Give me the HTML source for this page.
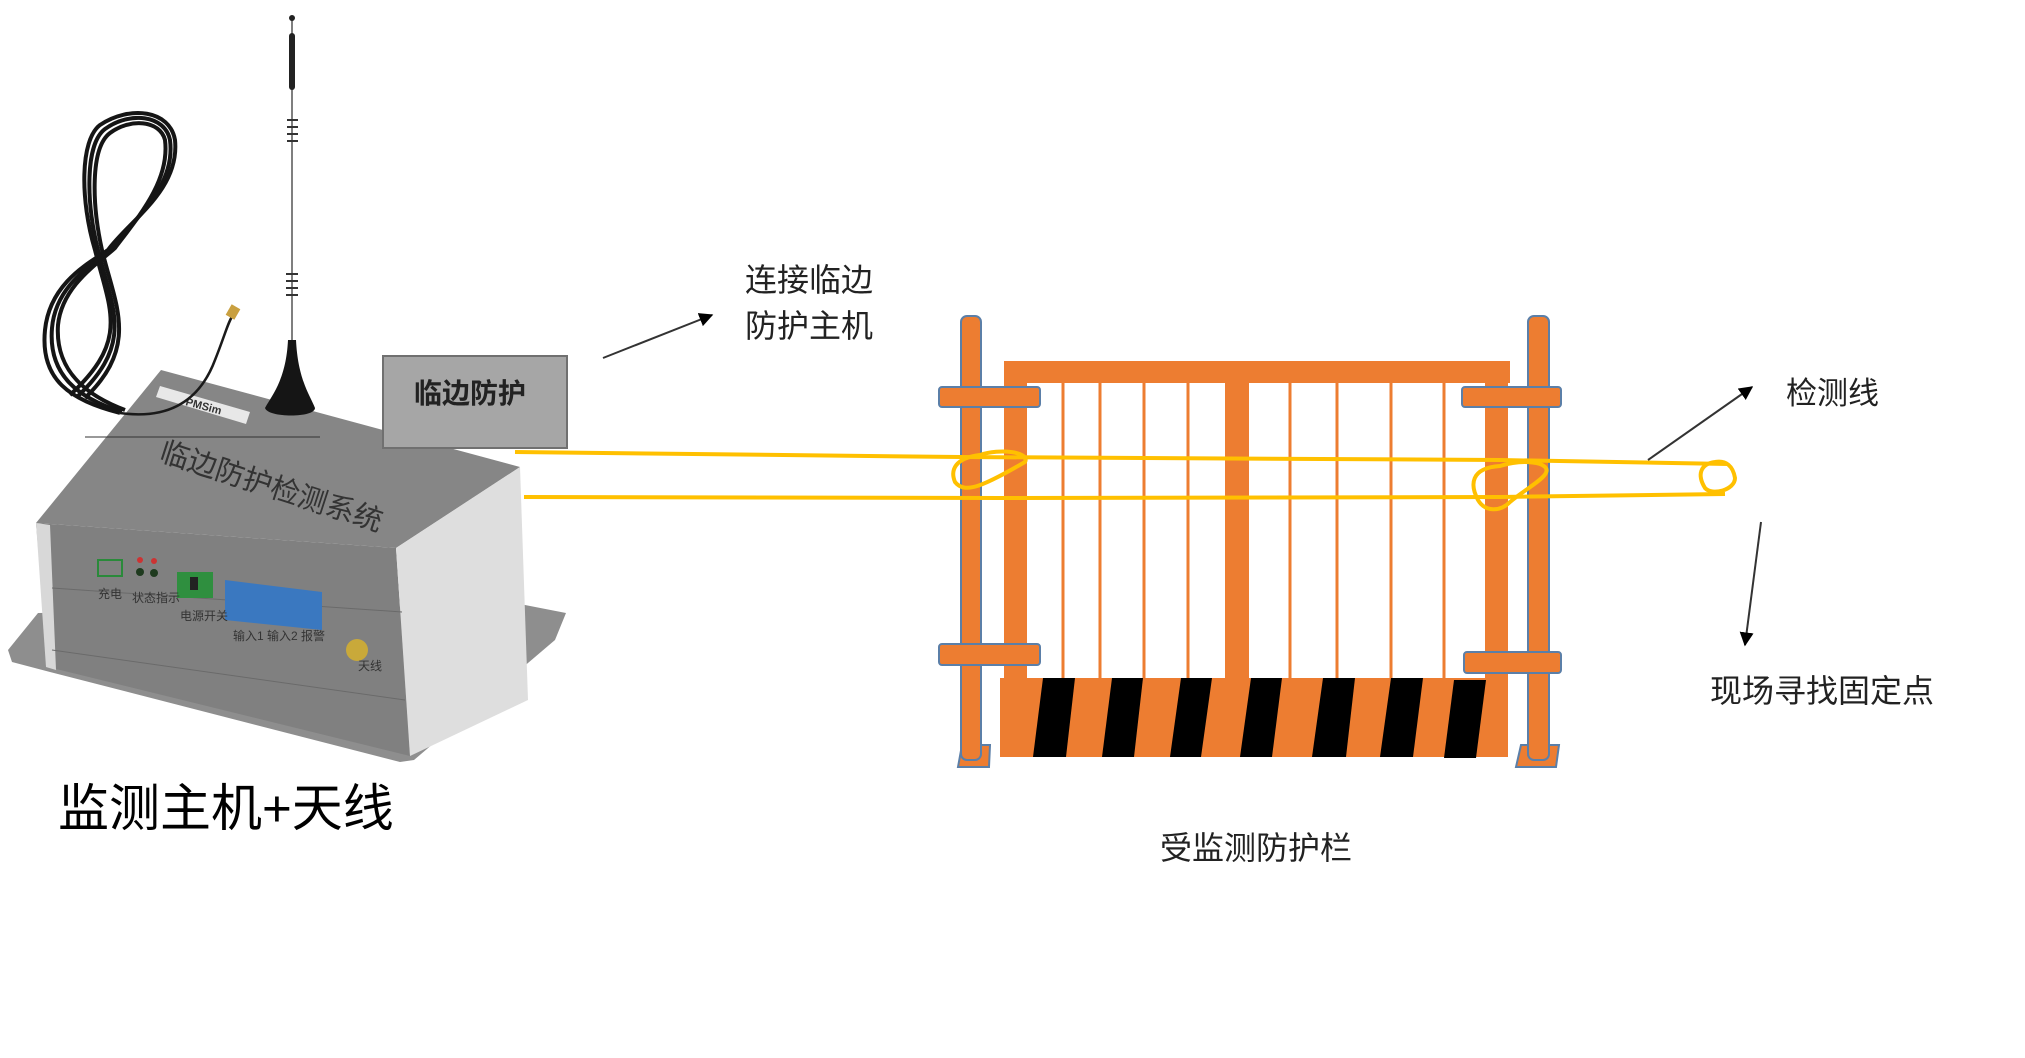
<!DOCTYPE html>
<html><head><meta charset="utf-8"><style>
html,body{margin:0;padding:0;background:#fff;}
svg{display:block;}
text{font-family:"Liberation Sans","Noto Sans CJK SC",sans-serif;}
</style></head><body>
<svg width="2025" height="1058" viewBox="0 0 2025 1058" xmlns="http://www.w3.org/2000/svg">
<defs>
<marker id="ah" viewBox="0 0 10 10" refX="9" refY="5" markerWidth="7" markerHeight="7" orient="auto"><path d="M0,0L10,5L0,10z" fill="#000"/></marker>
</defs>
<!-- flange plate -->
<polygon points="38,613 8,650 12,662 50,672 400,762 414,760 555,640 566,613 525,605" fill="#8e8e8e"/>
<ellipse cx="494" cy="688" rx="7" ry="5" fill="#cfd8e8"/>
<!-- device faces -->
<polygon points="161,370 520,467 396,548 36,523" fill="#868686"/>
<polygon points="36,523 396,548 410,756 48,667" fill="#808080"/>
<polygon points="396,548 520,467 528,700 410,756" fill="#dedede"/>
<polygon points="36,523 50,525 56,670 46,667" fill="#d8d8d8"/>
<line x1="52" y1="588" x2="402" y2="612" stroke="#6a6a6a" stroke-width="1"/>
<line x1="52" y1="650" x2="405" y2="700" stroke="#6a6a6a" stroke-width="1"/>
<text x="158" y="460" font-size="29" fill="#333" transform="rotate(18 158 460)">临边防护检测系统</text>
<!-- panel components -->
<rect x="98" y="560" width="24" height="16" fill="none" stroke="#2a8a3a" stroke-width="2"/>
<circle cx="140" cy="560" r="3" fill="#c33"/><circle cx="154" cy="561" r="3" fill="#c33"/>
<circle cx="140" cy="572" r="4" fill="#1e3a1e"/><circle cx="154" cy="573" r="4" fill="#1e3a1e"/>
<rect x="177" y="572" width="36" height="26" fill="#2f8f3f"/><rect x="190" y="577" width="8" height="13" fill="#222"/>
<polygon points="225,580 322,592 322,630 225,620" fill="#3a78c0"/>
<circle cx="357" cy="650" r="11" fill="#c9a93a"/>
<text x="98" y="598" font-size="12" fill="#333">充电</text>
<text x="132" y="602" font-size="12" fill="#333">状态指示</text>
<text x="180" y="620" font-size="12" fill="#333">电源开关</text>
<text x="233" y="640" font-size="12" fill="#333">输入1 输入2 报警</text>
<text x="358" y="670" font-size="12" fill="#333">天线</text>
<polygon points="160,386 250,412 246,424 156,397" fill="#e8e8e8"/>
<text x="185" y="405" font-size="11" font-weight="bold" fill="#333" transform="rotate(15 185 405)">PMSim</text>
<line x1="85" y1="437" x2="320" y2="437" stroke="#333" stroke-width="1"/>
<!-- cable coil -->
<g fill="none" stroke="#151515" stroke-width="4">
<path d="M120,413 C70,400 40,380 45,330 C50,280 95,260 108,250 C130,220 180,190 175,140 C170,110 130,105 100,125 C80,140 80,200 95,250 C110,310 130,340 70,395"/>
<path d="M125,410 C85,395 55,370 58,325 C62,285 100,262 115,248 C140,215 170,180 165,140 C160,120 130,118 110,133 C90,148 92,205 102,250 C115,305 140,345 85,398"/>
<path d="M122,412 C78,398 48,375 52,328 C56,282 98,262 111,249 C135,218 176,186 170,140 C165,115 130,111 105,129 C85,144 86,202 98,250 C112,308 135,342 78,396"/>
</g>
<path d="M120,413 C170,420 200,400 215,360 C225,335 228,322 233,315" fill="none" stroke="#1a1a1a" stroke-width="2.5"/>
<rect x="228" y="306" width="10" height="12" fill="#c9a040" transform="rotate(30 233 312)"/>
<!-- antenna -->
<line x1="292" y1="17" x2="292" y2="345" stroke="#555" stroke-width="1.5"/>
<circle cx="292" cy="18" r="3" fill="#222"/>
<rect x="289" y="33" width="6" height="57" rx="3" fill="#222"/>
<g stroke="#333" stroke-width="2"><line x1="287" y1="120" x2="298" y2="120"/><line x1="287" y1="127" x2="298" y2="127"/><line x1="287" y1="134" x2="298" y2="134"/><line x1="287" y1="141" x2="298" y2="141"/>
<line x1="286" y1="274" x2="298" y2="274"/><line x1="286" y1="281" x2="298" y2="281"/><line x1="286" y1="288" x2="298" y2="288"/><line x1="286" y1="295" x2="298" y2="295"/></g>
<path d="M288,340 L296,340 C298,380 310,395 315,408 C315,418 268,418 265,408 C272,395 286,380 288,340z" fill="#151515"/>
<!-- label box -->
<rect x="383" y="356" width="184" height="92" fill="#a6a6a6" stroke="#707070" stroke-width="2"/>
<text x="470" y="403" font-size="28" font-weight="bold" fill="#222" text-anchor="middle">临边防护</text>
<!-- arrow 1 -->
<line x1="603" y1="358" x2="712" y2="315" stroke="#333" stroke-width="2" marker-end="url(#ah)"/>
<text x="745" y="291" font-size="32" fill="#222">连接临边</text>
<text x="745" y="337" font-size="32" fill="#222">防护主机</text>
<text x="58" y="826" font-size="51" fill="#000">监测主机+天线</text>
<!-- fence -->
<g fill="#ED7D31">
<rect x="1004" y="361" width="506" height="22"/>
<rect x="1004" y="361" width="23" height="396"/>
<rect x="1485" y="361" width="23" height="396"/>
<rect x="1225" y="361" width="24" height="320"/>
<rect x="1000" y="678" width="508" height="79"/>
</g>
<g stroke="#ED7D31" stroke-width="3">
<line x1="1063" y1="383" x2="1063" y2="680"/><line x1="1100" y1="383" x2="1100" y2="680"/><line x1="1144" y1="383" x2="1144" y2="680"/><line x1="1188" y1="383" x2="1188" y2="680"/>
<line x1="1290" y1="383" x2="1290" y2="680"/><line x1="1337" y1="383" x2="1337" y2="680"/><line x1="1391" y1="383" x2="1391" y2="680"/><line x1="1444" y1="383" x2="1444" y2="680"/>
</g>
<g fill="#000">
<polygon points="1043,678 1075,678 1066,757 1033,757"/>
<polygon points="1112,678 1143,678 1134,757 1102,757"/>
<polygon points="1181,678 1212,678 1201,757 1170,757"/>
<polygon points="1251,678 1282,678 1272,757 1240,757"/>
<polygon points="1323,678 1355,678 1346,757 1312,757"/>
<polygon points="1391,678 1423,678 1413,757 1380,757"/>
<polygon points="1454,680 1486,680 1476,758 1444,758"/>
</g>
<g fill="#ED7D31" stroke="#5b7fa8" stroke-width="2">
<polygon points="962,745 990,745 989,767 958,767"/>
<polygon points="1521,745 1559,745 1556,767 1516,767"/>
<rect x="961" y="316" width="20" height="444" rx="6"/>
<rect x="1528" y="316" width="21" height="444" rx="6"/>
<rect x="939" y="387" width="101" height="20" rx="3"/>
<rect x="939" y="644" width="101" height="21" rx="3"/>
<rect x="1462" y="387" width="99" height="20" rx="3"/>
<rect x="1464" y="652" width="97" height="21" rx="3"/>
</g>
<!-- yellow wire -->
<g fill="none" stroke="#FFC000" stroke-width="4">
<path d="M515,452 L960,457 L1500,460 L1728,464"/>
<path d="M524,497 L1000,498 L1500,497 L1725,494"/>
<path d="M980,455 C955,458 950,470 955,482 C965,495 985,485 1025,462 C1030,452 1000,448 980,455z"/>
<path d="M1500,466 C1470,468 1470,485 1478,500 C1485,512 1500,512 1510,502 C1530,485 1560,472 1540,464 C1525,460 1510,463 1500,466z"/>
<path d="M1715,462 C1700,464 1697,475 1705,488 C1712,496 1735,490 1735,478 C1733,466 1726,460 1715,462z"/>
</g>
<!-- arrows right -->
<line x1="1648" y1="460" x2="1752" y2="387" stroke="#333" stroke-width="2" marker-end="url(#ah)"/>
<text x="1786" y="404" font-size="31" fill="#222">检测线</text>
<line x1="1761" y1="522" x2="1745" y2="645" stroke="#333" stroke-width="2" marker-end="url(#ah)"/>
<text x="1710" y="702" font-size="32" fill="#222">现场寻找固定点</text>
<text x="1160" y="859" font-size="32" fill="#222">受监测防护栏</text>
</svg>
</body></html>
